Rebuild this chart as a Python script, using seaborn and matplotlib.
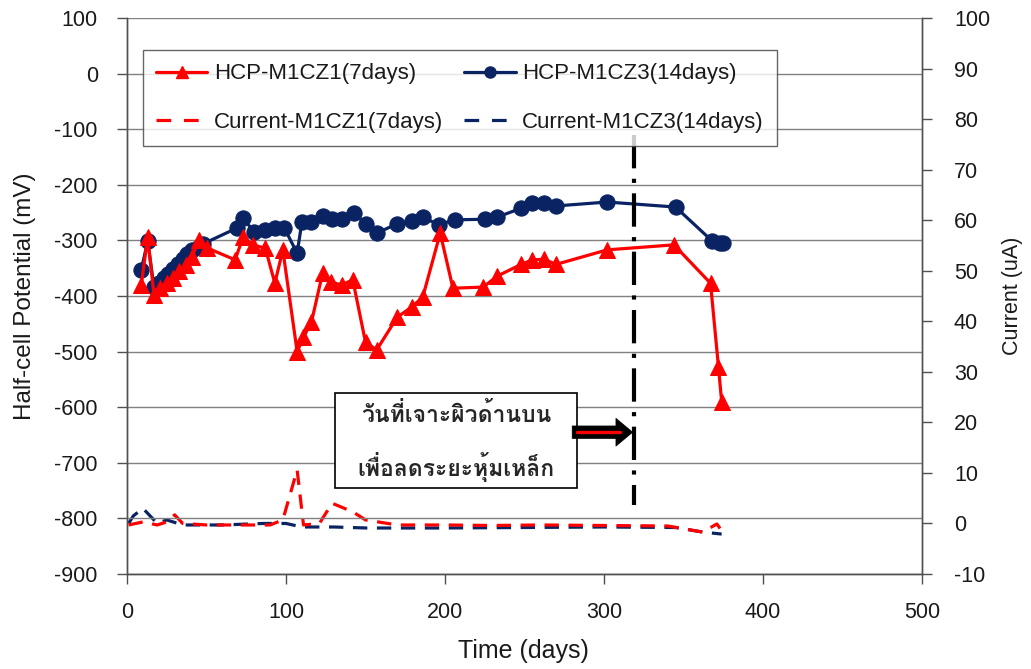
import numpy as np
import pandas as pd
import matplotlib
matplotlib.use("Agg")
import matplotlib.pyplot as plt
import seaborn as sns
from matplotlib import font_manager as fm
from matplotlib.ft2font import FT2Font
from matplotlib.patches import Rectangle
from matplotlib.lines import Line2D

# ---------------- data ----------------
days_cz1 = [9, 13, 17, 21, 25, 29, 33, 37, 41, 45, 50, 68, 73, 79, 87, 93, 98,
            107, 111, 116, 123, 128, 135, 142, 150, 157, 170, 179, 186, 197, 205,
            224, 233, 248, 255, 262, 270, 302, 344, 367, 372, 374]
hcp_cz1 = [-380, -294, -398, -385, -377, -368, -355, -345, -330, -300, -313,
           -335, -294, -308, -314, -377, -317, -500, -474, -447, -359, -375,
           -380, -371, -483, -497, -438, -420, -402, -287, -386, -384, -364,
           -343, -335, -334, -343, -317, -308, -377, -528, -590]

days_cz3 = [9, 13, 17, 20, 23, 26, 29, 32, 35, 38, 41, 45, 48, 69, 73, 80, 87,
            93, 99, 107, 110, 116, 123, 129, 135, 143, 150, 157, 170, 179, 186,
            196, 206, 225, 233, 248, 255, 262, 270, 302, 345, 368, 373, 375]
hcp_cz3 = [-353, -301, -384, -376, -368, -360, -352, -343, -333, -324, -318,
           -312, -306, -278, -260, -285, -281, -278, -278, -323, -267, -267,
           -256, -262, -262, -251, -270, -287, -270, -265, -258, -272, -263,
           -262, -258, -242, -233, -233, -238, -231, -240, -301, -305, -305]

cur_days_cz1 = [1, 10, 19, 25, 30, 35, 50, 70, 90, 98, 107, 111, 121, 129, 142,
                150, 170, 200, 230, 260, 300, 340, 362, 371, 373]
cur_cz1 = [-0.3, 0.3, -0.3, 0.3, 1.7, 0.0, -0.3, -0.3, -0.3, 0.7, 10.6, -0.3,
           0.0, 4.0, 2.3, 0.7, -0.3, -0.3, -0.4, -0.3, -0.4, -0.5, -1.7, -0.1, -1.0]

cur_days_cz3 = [1, 4, 10, 19, 25, 35, 60, 86, 100, 110, 130, 151, 197, 250, 300,
                345, 362, 374]
cur_cz3 = [0.0, 1.5, 3.0, 0.0, 0.7, -0.3, -0.3, 0.0, 0.0, -0.7, -0.7, -0.9,
           -0.9, -0.8, -0.7, -0.8, -1.7, -2.1]

labels = ["HCP-M1CZ1(7days)", "HCP-M1CZ3(14days)",
          "Current-M1CZ1(7days)", "Current-M1CZ3(14days)"]
note_lines = ["วันที่เจาะผิวด้านบน", "เพื่อลดระยะหุ้มเหล็ก"]
event_day = 319

RED = "#ff0000"
NAVY = "#0a2463"
TXT = "#1a1a1a"

# ---------------- fonts ----------------
sns.set_theme(style="white")
plt.rcParams["font.family"] = ["Liberation Sans", "DejaVu Sans"]
plt.rcParams["axes.unicode_minus"] = False


def find_thai_font():
    best = None
    for f in fm.fontManager.ttflist:
        try:
            ft = FT2Font(f.fname)
            if ft.get_char_index(ord("ว")) and ft.get_char_index(ord("ุ")):
                score = 1 if str(f.weight) in ("bold", "700") else 0
                if best is None or score > best[0]:
                    best = (score, f.name)
        except Exception:
            pass
    return best[1] if best else "DejaVu Sans"


thai_font = find_thai_font()

# ---------------- figure ----------------
fig = plt.figure(figsize=(10.31, 6.69), dpi=100)
ax = fig.add_axes([127 / 1031, 1 - 574 / 669, (922 - 127) / 1031, (574 - 18) / 669])
ax2 = ax.twinx()

df1 = pd.DataFrame({"day": days_cz1, "v": hcp_cz1})
df3 = pd.DataFrame({"day": days_cz3, "v": hcp_cz3})
dc1 = pd.DataFrame({"day": cur_days_cz1, "v": cur_cz1})
dc3 = pd.DataFrame({"day": cur_days_cz3, "v": cur_cz3})

LW = 2.3
DASH = (4.5, 3)
sns.lineplot(data=df1, x="day", y="v", ax=ax, color=RED, lw=LW, marker="^",
             markersize=11, markeredgecolor=RED, sort=False, zorder=4, legend=False)
sns.lineplot(data=df3, x="day", y="v", ax=ax, color=NAVY, lw=LW, marker="o",
             markersize=11, markeredgecolor=NAVY, sort=False, zorder=3, legend=False)
sns.lineplot(data=dc1, x="day", y="v", ax=ax2, color=RED, lw=LW, sort=False,
             legend=False, zorder=3)
sns.lineplot(data=dc3, x="day", y="v", ax=ax2, color=NAVY, lw=LW, sort=False,
             legend=False, zorder=2)
for ln in ax2.get_lines():
    ln.set_dashes(DASH)

# axes limits / ticks
ax.set_xlim(0, 500)
ax.set_ylim(-900, 100)
ax2.set_ylim(-10, 100)
ax.set_xticks(range(0, 501, 100))
ax.set_yticks(range(-900, 101, 100))
ax2.set_yticks(range(-10, 101, 10))
ax.yaxis.grid(True, color="#808080", lw=1.0)
ax.xaxis.grid(False)
ax2.grid(False)
for a in (ax, ax2):
    for s in a.spines.values():
        s.set_color("#505050")
        s.set_linewidth(1.0)
    a.tick_params(labelsize=15.5, colors="#505050", labelcolor=TXT, length=7,
                  width=1, direction="out")
ax.tick_params(axis="y", pad=14, left=True)
ax.tick_params(axis="x", pad=13, bottom=True)
ax2.tick_params(axis="y", pad=16, right=True)
ax.spines["top"].set_visible(False)
ax2.spines["top"].set_visible(False)

ax.set_xlabel("Time (days)", fontsize=18, color=TXT)
ax.set_ylabel("Half-cell Potential (mV)", fontsize=17.5, color=TXT)
ax2.set_ylabel("Current (uA)", fontsize=15.5, color=TXT)
ax.xaxis.set_label_coords(0.499, -0.117)
ax.yaxis.set_label_coords(-0.114, 0.5)
ax2.yaxis.set_label_coords(1.1, 0.5)

# event line (dash-dot)
ax.plot([event_day, event_day], [-110, -776], color="black", lw=3,
        dashes=(8, 2.5, 1, 2.5), zorder=6)

# annotation box
ax.add_patch(Rectangle((131, -745), 152, 170, facecolor="white",
                       edgecolor="black", lw=1.2, zorder=7))
ax.text(207, -612, note_lines[0], ha="center", va="center", fontsize=16.5,
        fontweight="bold", family=[thai_font, "DejaVu Sans"], zorder=8)
ax.text(207, -708, note_lines[1], ha="center", va="center", fontsize=16.5,
        fontweight="bold", family=[thai_font, "DejaVu Sans"], zorder=8)

# arrow
ax.annotate("", xy=(318, -645), xytext=(280, -645),
            arrowprops=dict(arrowstyle="simple,head_length=0.6,head_width=1.0,tail_width=0.45",
                            fc="black", ec="black", lw=0.5, mutation_scale=20,
                            shrinkA=0, shrinkB=0), zorder=8)
ax.plot([283, 310], [-645, -645], color=RED, lw=2.4, zorder=9)

# legend (filled column-wise -> order so rows read HCP / Current)
hk = dict(lw=LW)
h_hcp1 = Line2D([], [], color=RED, marker="^", markersize=8.5, **hk)
h_hcp3 = Line2D([], [], color=NAVY, marker="o", markersize=8, **hk)
h_cur1 = Line2D([], [], color=RED, dashes=(4.6, 4), **hk)
h_cur3 = Line2D([], [], color=NAVY, dashes=(4.6, 4), **hk)
handles = [h_hcp1, h_cur1, h_hcp3, h_cur3]
leg_labels = [labels[0], labels[2], labels[1], labels[3]]
leg = ax.legend(handles, leg_labels, ncol=2, loc="upper left",
                bbox_to_anchor=(143 / 1031, 1 - 50 / 669), bbox_transform=fig.transFigure,
                fontsize=16, frameon=True, fancybox=False, edgecolor="#404040",
                columnspacing=0.95, handlelength=2.3, handletextpad=0.3,
                borderpad=0.6, labelspacing=1.25, borderaxespad=0)
leg.get_frame().set_linewidth(1.0)
for t in leg.get_texts():
    t.set_color(TXT)
leg.set_zorder(10)
ax.set_zorder(ax2.get_zorder() + 1)
ax.patch.set_visible(False)

fig.savefig("out.png", dpi=100)
